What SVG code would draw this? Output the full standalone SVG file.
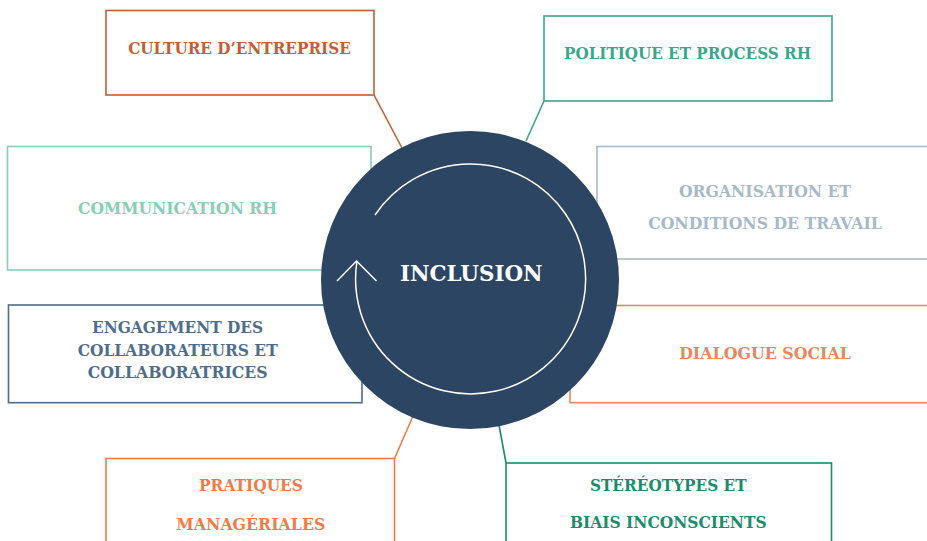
<svg xmlns="http://www.w3.org/2000/svg" width="927" height="541" viewBox="0 0 927 541">
<style>
.box{fill:#ffffff;stroke-width:1.6}
.lbl{font-family:"DejaVu Serif","Liberation Serif",serif;font-weight:bold;font-size:16.5px;text-anchor:middle}
.conn{fill:none;stroke-width:1.6}
</style>
<rect width="927" height="541" fill="#ffffff"/>
<g id="connectors">
<line class="conn" stroke="#c25e34" x1="374" y1="95" x2="402" y2="148"/>
<line class="conn" stroke="#3aa68a" x1="544" y1="101" x2="526" y2="141"/>
<line class="conn" stroke="#f27b45" x1="394.5" y1="458.5" x2="413" y2="416"/>
<line class="conn" stroke="#1a8c6c" x1="506" y1="463" x2="499" y2="425"/>
</g>
<g id="node-culture">
<rect class="box" stroke="#c25e34" x="106" y="10.5" width="268" height="84.5"/>
<text class="lbl" fill="#c25e34" x="239.5" y="54.3" textLength="222.7" lengthAdjust="spacingAndGlyphs">CULTURE D’ENTREPRISE</text>
</g>
<g id="node-politique">
<rect class="box" stroke="#3aa68a" x="544" y="16" width="288" height="85"/>
<text class="lbl" fill="#3aa68a" x="687.5" y="59" textLength="247" lengthAdjust="spacingAndGlyphs">POLITIQUE ET PROCESS RH</text>
</g>
<g id="node-communication">
<rect class="box" stroke="#86cfb4" x="7.5" y="146.5" width="363.5" height="123.5"/>
<text class="lbl" fill="#86cfb4" x="177.5" y="214" textLength="199" lengthAdjust="spacingAndGlyphs">COMMUNICATION RH</text>
</g>
<g id="node-organisation">
<rect class="box" stroke="#a5b9cc" x="597" y="146.5" width="340" height="112.5"/>
<text class="lbl" fill="#a5b9cc" x="765" y="197.3" textLength="172" lengthAdjust="spacingAndGlyphs">ORGANISATION ET</text>
<text class="lbl" fill="#a5b9cc" x="765" y="229" textLength="233.7" lengthAdjust="spacingAndGlyphs">CONDITIONS DE TRAVAIL</text>
</g>
<g id="node-engagement">
<rect class="box" stroke="#4d6d8d" x="8.5" y="305" width="353.5" height="97.7"/>
<text class="lbl" fill="#4d6d8d" x="177.5" y="333" textLength="171" lengthAdjust="spacingAndGlyphs">ENGAGEMENT DES</text>
<text class="lbl" fill="#4d6d8d" x="177.7" y="356" textLength="200" lengthAdjust="spacingAndGlyphs">COLLABORATEURS ET</text>
<text class="lbl" fill="#4d6d8d" x="177.7" y="378" textLength="180" lengthAdjust="spacingAndGlyphs">COLLABORATRICES</text>
</g>
<g id="node-dialogue">
<rect class="box" stroke="#e9865f" x="570" y="305.5" width="367" height="97.2"/>
<text class="lbl" fill="#e9865f" x="765" y="359.3" textLength="171.7" lengthAdjust="spacingAndGlyphs">DIALOGUE SOCIAL</text>
</g>
<g id="node-pratiques">
<rect class="box" stroke="#f27b45" x="106" y="458.5" width="288.5" height="100"/>
<text class="lbl" fill="#f27b45" x="251" y="490.7" textLength="104" lengthAdjust="spacingAndGlyphs">PRATIQUES</text>
<text class="lbl" fill="#f27b45" x="250.8" y="530.3" textLength="149" lengthAdjust="spacingAndGlyphs">MANAGÉRIALES</text>
</g>
<g id="node-stereotypes">
<rect class="box" stroke="#1a8c6c" x="506" y="463" width="325.5" height="100"/>
<text class="lbl" fill="#1a8c6c" x="668.3" y="490.7" textLength="156.7" lengthAdjust="spacingAndGlyphs">STÉRÉOTYPES ET</text>
<text class="lbl" fill="#1a8c6c" x="668.3" y="527.7" textLength="196.7" lengthAdjust="spacingAndGlyphs">BIAIS INCONSCIENTS</text>
</g>
<g id="node-inclusion">
<circle cx="470" cy="280" r="149" fill="#2b4563"/>
<path d="M375 215 A115 115 0 1 1 357 261" fill="none" stroke="#ffffff" stroke-width="1.5"/>
<polyline points="337,281 356.5,261 376.5,281" fill="none" stroke="#ffffff" stroke-width="1.5"/>
<text x="471.3" y="281.3" fill="#ffffff" font-family="DejaVu Serif, Liberation Serif, serif" font-weight="bold" font-size="23" text-anchor="middle" textLength="142.7" lengthAdjust="spacingAndGlyphs">INCLUSION</text>
</g>
</svg>
